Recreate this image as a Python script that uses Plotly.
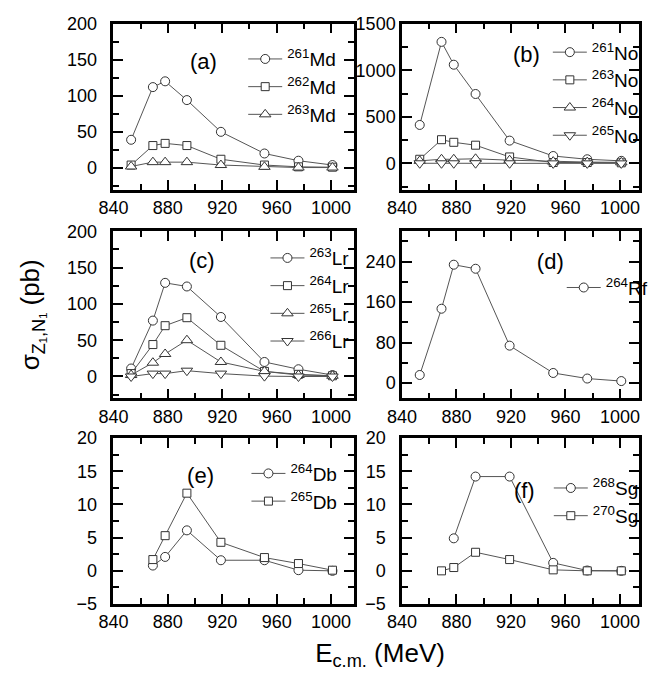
import plotly.graph_objects as go

W, H = 653, 682
FONT = "Liberation Sans, Arial, Helvetica, sans-serif"
NB = "\u00a0"

# ---------------- data ----------------
E = [853, 869, 878, 894, 919, 951, 976, 1001]

Md261 = [39, 112, 120, 94, 50, 20, 10, 4]
Md262 = [4, 31, 34, 31, 12, 4, 1.5, 1]
Md263 = [2, 8, 8, 8, 4, 1.5, 0.5, 0.5]

No261 = [413, 1304, 1059, 745, 245, 80, 45, 28]
No263 = [45, 255, 227, 196, 70, 10, 10, 7]
No264 = [28, 45, 45, 50, 35, 20, 15, 12]
No265 = [2, 2, 2, 3, 2, 1, 1, 1]

Lr263 = [11, 77, 129, 124, 82, 20, 10, 2]
Lr264 = [4, 44, 70, 81, 43, 7, 3, 1]
Lr265 = [2, 19, 31, 50, 20, 7, 2, 1]
Lr266 = [0, 4, 4, 8, 4, 0.5, 0, 0]

Rf264 = [16, 147, 234, 226, 74, 20, 9, 4]

E_Db = [869, 878, 894, 919, 951, 976, 1001]
Db264 = [0.8, 2.1, 6.1, 1.6, 1.6, 0.1, 0]
Db265 = [1.7, 5.3, 11.7, 4.3, 2.0, 1.1, 0.1]

E_Sg268 = [878, 894, 919, 951, 976, 1001]
Sg268 = [4.9, 14.2, 14.2, 1.2, 0.05, 0]
E_Sg270 = [869, 878, 894, 919, 951, 976, 1001]
Sg270 = [0, 0.5, 2.8, 1.7, 0.15, 0, 0]

panels = [
    ("(a)", [("<sup>261</sup>Md", E, Md261, "circle"),
             ("<sup>262</sup>Md", E, Md262, "square"),
             ("<sup>263</sup>Md", E, Md263, "triangle-up")], [-30, 200], 50, 25),
    ("(b)", [("<sup>261</sup>No", E, No261, "circle"),
             ("<sup>263</sup>No", E, No263, "square"),
             ("<sup>264</sup>No", E, No264, "triangle-up"),
             ("<sup>265</sup>No", E, No265, "triangle-down")], [-280, 1500], 500, 250),
    ("(c)", [("<sup>263</sup>Lr", E, Lr263, "circle"),
             ("<sup>264</sup>Lr", E, Lr264, "square"),
             ("<sup>265</sup>Lr", E, Lr265, "triangle-up"),
             ("<sup>266</sup>Lr", E, Lr266, "triangle-down")], [-30, 200], 50, 25),
    ("(d)", [("<sup>264</sup>Rf", E, Rf264, "circle")], [-30, 300], 80, 40),
    ("(e)", [("<sup>264</sup>Db", E_Db, Db264, "circle"),
             ("<sup>265</sup>Db", E_Db, Db265, "square")], [-5, 20], 5, 2.5),
    ("(f)", [("<sup>268</sup>Sg", E_Sg268, Sg268, "circle"),
             ("<sup>270</sup>Sg", E_Sg270, Sg270, "square")], [-5, 20], 5, 2.5),
]

# ---------------- layout geometry (pixels) ----------------
col_px = [(103, 355), (405, 653)]
row_px = [(14, 185), (228, 400), (441, 612)]
xr = [[840, 1017], [840, 1014]]
# legend box (left, top) in pixels, panel-label side and padding
legend_px = [(181, 31), (519, 24), (180, 236), (544, 237), (178, 458), (520, 473)]
label_side = ["left", "left", "left", "top left", "left", "left"]
label_pad = [3, 0, 7, 0, 4, 1]
ysuffix = [NB * 2, "", NB * 2, "", NB * 2, NB * 2]
msize = {"circle": 9, "square": 8, "triangle-up": 10, "triangle-down": 10}

fig = go.Figure()
layout = dict(
    width=W, height=H, margin=dict(l=0, r=0, t=0, b=0),
    paper_bgcolor="white", plot_bgcolor="white",
    font=dict(family=FONT, size=18, color="black"),
    showlegend=True,
    title=dict(text="E<sub>c.m.</sub> (MeV)", x=382 / W, y=1 - 662 / H,
               xref="paper", yref="paper", xanchor="center", yanchor="middle",
               font=dict(family=FONT, size=26, color="black")),
)

for i, (lab, series, yrange, ydt, ymin) in enumerate(panels):
    r, c = divmod(i, 2)
    n = "" if i == 0 else str(i + 1)
    leg = "legend" if i == 0 else f"legend{i + 1}"
    for name, xs, ys, sym in series:
        fig.add_trace(go.Scatter(
            x=xs, y=ys, name=name, mode="lines+markers",
            xaxis="x" + n, yaxis="y" + n, legend=leg,
            line=dict(color="#555555", width=1),
            marker=dict(symbol=sym, size=msize[sym], color="white",
                        line=dict(color="#333333", width=1)),
        ))
    x0, x1 = col_px[c]
    t0, t1 = row_px[r]
    layout["xaxis" + n] = dict(
        domain=[x0 / W, x1 / W], anchor="y" + n, range=xr[c],
        tickmode="linear", tick0=840, dtick=40,
        ticks="inside", ticklen=10, tickwidth=2, tickcolor="black",
        minor=dict(ticks="inside", ticklen=6, tickwidth=2, dtick=20, tickcolor="black"),
        showline=True, linewidth=2.5, linecolor="black", mirror="ticks",
        showgrid=False, zeroline=False,
    )
    ya = dict(
        domain=[1 - t1 / H, 1 - t0 / H], anchor="x" + n, range=yrange,
        tickmode="linear", tick0=0, dtick=ydt, ticksuffix=ysuffix[i],
        ticks="inside", ticklen=10, tickwidth=2, tickcolor="black",
        minor=dict(ticks="inside", ticklen=6, tickwidth=2, dtick=ymin, tickcolor="black"),
        showline=True, linewidth=2.5, linecolor="black", mirror="ticks",
        showgrid=False, zeroline=False,
    )
    if i == 2:
        ya["title"] = dict(text="σ<sub>Z₁,N₁</sub> (pb)", standoff=20,
                           font=dict(family=FONT, size=26, color="black"))
    layout["yaxis" + n] = ya
    lx, ly = legend_px[i]
    layout[leg] = dict(
        x=lx / W, y=1 - ly / H, xanchor="left", yanchor="top",
        bgcolor="rgba(0,0,0,0)", borderwidth=0, itemwidth=34,
        font=dict(family=FONT, size=19), tracegroupgap=0,
        title=dict(text=lab + NB * label_pad[i], side=label_side[i],
                   font=dict(family=FONT, size=22, color="black")),
    )

fig.update_layout(**layout)
fig.write_html("out.html")
